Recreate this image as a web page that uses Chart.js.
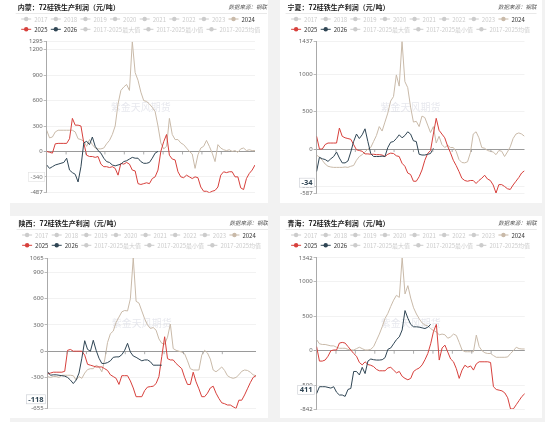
<!DOCTYPE html>
<html lang="zh-CN">
<head>
<meta charset="UTF-8">
<title>72硅铁生产利润</title>
<script src="https://cdn.jsdelivr.net/npm/chart.js"></script>
<style>
  html, body { margin: 0; padding: 0; background: #fff; }
  .wrap { position: relative; width: 550px; height: 422px; overflow: hidden; }
  .bg { position: absolute; left: 10px; top: 0; width: 535px; height: 422px; background: #f2f2f2; }
  .card { position: absolute; background: #fff; }
  .card canvas { display: block; }
</style>
</head>
<body>
<div class="wrap">
  <div class="bg"></div>
  <div class="card" style="left:10px;top:0;width:258px;height:203px;"><canvas id="c1" width="258" height="203"></canvas></div>
  <div class="card" style="left:280px;top:0;width:262px;height:203px;"><canvas id="c2" width="262" height="203"></canvas></div>
  <div class="card" style="left:10px;top:216px;width:258px;height:202px;"><canvas id="c3" width="258" height="202"></canvas></div>
  <div class="card" style="left:280px;top:216px;width:262px;height:202px;"><canvas id="c4" width="262" height="202"></canvas></div>
</div>
<script>
// 数据：每 5 天一个点（从 01-01 开始）
var STEP = 5;
var xTickDays = [34, 68, 102, 136, 170, 204, 238, 272, 306];
var xTickLabels = ['02-04', '03-09', '04-12', '05-16', '06-1', '07-23', '8-26', '09-29', '11-02'];
var legendNames = ['2017', '2018', '2019', '2020', '2021', '2022', '2023', '2024',
  '2025', '2026', '2017-2025最大值', '2017-2025最小值', '2017-2025均值'];

// 内蒙
var nm2024 = [250,160,170,230,250,250,250,250,250,250,
  230,150,140,120,60,140,80,40,30,30,
  40,90,130,200,300,560,720,760,790,720,
  1295,930,840,700,600,590,560,520,470,300,
  100,30,60,390,200,140,140,100,80,40,
  0,-30,-200,-40,40,60,130,60,-20,-120,
  80,40,20,10,20,0,10,-10,30,40,
  10,20,10,10];
var nm2025 = [0,-10,-20,90,95,95,95,95,150,390,
  310,310,300,100,-45,-60,-60,-70,-60,-150,
  -180,-180,-190,-180,-200,-280,-140,-150,-130,-150,
  -220,-230,-380,-390,-380,-370,-380,-320,-300,-220,
  0,115,200,-45,-90,-100,-240,-300,-310,-280,
  -300,-320,-300,-310,-420,-470,-470,-487,-470,-460,
  -420,-280,-240,-250,-240,-240,-300,-300,-430,-450,
  -320,-260,-220,-160];
var nm2026 = [-160,-200,-180,-160,-150,-140,-130,-80,-220,-250,
  -270,-360,-180,100,120,80,170,60,10,-20,
  -80,-120,-130,-160,-170,-160,-150,-120,-110,-90,
  -70,-80,-80,-120,-140,-140,-130,-80,-20,0];

// 宁夏
var nx2024 = [-80,-110,-150,-200,-230,-240,-245,-245,-245,-245,
  -240,-245,-230,-220,-150,-100,-75,-40,0,20,
  100,180,300,240,360,480,640,700,990,840,
  1437,900,820,560,360,370,300,440,420,320,
  220,300,80,170,60,20,50,20,20,-30,
  -140,-180,-185,-170,-50,200,230,150,20,10,
  -20,-30,-40,-75,-20,-30,-100,-40,30,140,
  200,215,200,170];
var nx2025 = [170,0,0,60,80,80,80,80,280,170,
  150,140,130,60,-10,-20,-30,-65,-65,-70,
  -70,-75,-75,-80,-100,-70,-55,-60,-90,-100,
  -190,-230,-320,-340,-430,-430,-370,-280,-150,-60,
  -20,200,410,250,200,150,40,-50,-150,-220,
  -300,-390,-420,-430,-420,-420,-460,-420,-390,-350,
  -400,-420,-480,-587,-475,-475,-500,-530,-540,-480,
  -430,-380,-320,-290];
var nx2026 = [-300,-110,-130,-140,-165,-130,-100,-40,-120,-185,
  -185,-160,-40,100,200,140,190,270,100,-60,
  -100,-100,-100,-95,-100,20,90,100,140,190,
  150,180,230,200,110,100,-70,-80,-80,-70,
  -60,10];

// 陕西
var sx2024 = [-290,-300,-290,-290,-300,-275,-275,-275,-275,-280,
  -330,-290,-310,-250,-210,-200,-200,-160,-180,-235,
  -100,100,200,230,330,390,450,465,460,600,
  1065,570,550,460,370,300,260,270,240,140,
  90,80,160,310,30,10,0,-10,-30,-110,
  -200,-215,-215,-215,-45,10,-20,-90,-215,-235,
  -210,-180,-220,-280,-300,-310,-300,-270,-230,-215,
  -220,-240,-270,-280];
var sx2025 = [-260,-250,-240,-240,-240,-240,-230,10,20,0,
  0,0,0,-45,-150,-160,-170,-180,-180,-180,
  -200,-220,-270,-290,-310,-380,-280,-280,-280,-340,
  -420,-520,-520,-520,-450,-410,-405,-400,-370,-290,
  -60,165,-85,-100,-100,-140,-170,-200,-300,-380,
  -380,-240,-350,-430,-520,-520,-480,-420,-400,-480,
  -540,-590,-600,-615,-615,-635,-655,-560,-560,-500,
  -430,-360,-300,-280];
var sx2026 = [-235,-275,-270,-270,-275,-280,-285,-300,-330,-370,
  -330,-250,-80,120,20,0,125,10,-80,-140,
  -140,-130,-110,-70,-65,-65,-40,10,90,-10,
  -55,-70,-90,-110,-100,-100,-120,-160,-160,-160,
  -160];

// 青海
var qh2024 = [160,100,90,90,80,70,70,50,35,35,
  35,20,10,10,30,50,30,10,10,20,
  60,150,240,345,465,540,640,730,800,770,
  1342,820,940,760,620,530,460,400,370,360,
  320,290,270,230,240,230,180,200,240,220,
  120,10,-15,-15,-15,-15,225,60,0,-30,
  -40,-40,-70,-95,-95,-95,-95,-90,-40,0,
  50,30,25,25];
var qh2025 = [60,-150,-150,-135,-80,0,10,10,110,120,
  110,60,10,-40,-80,-170,-205,-160,-200,-210,
  -230,-270,-290,-290,-290,-250,-240,-280,-320,-300,
  -370,-400,-420,-400,-300,-270,-250,-205,-130,-40,
  100,280,380,-135,40,80,-20,-120,-160,-260,
  -400,-280,-210,-240,-220,-280,-190,-160,-160,-160,
  -160,-170,-520,-560,-570,-580,-610,-680,-842,-840,
  -780,-720,-660,-620];
var qh2026 = [-620,-520,-520,-520,-530,-540,-520,-600,-640,-640,
  -660,-560,-545,-300,-300,-350,-240,-330,-150,-120,
  -130,-135,-135,-130,-100,20,40,100,160,200,
  300,580,470,380,345,345,340,330,320,340,
  380];

var COLOR_2024 = '#c9baa9';
var COLOR_2025 = '#d7403c';
var COLOR_2026 = '#2f4554';
var GREY = '#cccccc';
var FONT = '"Noto Sans", "Noto Sans CJK SC", sans-serif';
var FONT_CJK = '"Noto Sans CJK SC", "Noto Sans", sans-serif';

function toPoints(arr) {
  return arr.map(function (v, i) { return { x: i * STEP, y: v }; });
}

// 标题、图例、水印、坐标轴标签框
var decorPlugin = {
  id: 'decor',
  beforeDatasetsDraw: function (chart, args, o) {
    var ctx = chart.ctx, a = chart.chartArea;
    ctx.save();
    ctx.font = '10px ' + FONT_CJK;
    ctx.fillStyle = 'rgba(185,190,205,0.35)';
    ctx.textAlign = 'center';
    ctx.textBaseline = 'middle';
    ctx.fillText('紫金天风期货', (a.left + a.right) / 2 - 10, (a.top + a.bottom) / 2 - 10);
    ctx.restore();
  },
  afterDraw: function (chart, args, o) {
    var ctx = chart.ctx, a = chart.chartArea;
    var xs = chart.scales.x, ys = chart.scales.y;
    ctx.save();

    // 标题
    ctx.textBaseline = 'middle';
    ctx.textAlign = 'left';
    ctx.fillStyle = '#222';
    ctx.font = 'bold 7px ' + FONT_CJK;
    ctx.fillText(o.title, a.left - 29, o.titleY);
    // 数据来源
    ctx.textAlign = 'right';
    ctx.fillStyle = '#555';
    ctx.font = 'italic 5.5px ' + FONT_CJK;
    ctx.fillText('数据来源：钢联', a.right + 12, o.titleY);
    // 分隔线
    ctx.strokeStyle = '#e3e3e3';
    ctx.lineWidth = 0.8;
    ctx.beginPath();
    ctx.moveTo(a.left - 31, o.titleY + 6.5);
    ctx.lineTo(a.right + 12, o.titleY + 6.5);
    ctx.stroke();

    // 图例
    ctx.font = '6px ' + FONT_CJK;
    ctx.textAlign = 'left';
    var lx = a.left - 25.5, ly = o.titleY + 12;
    legendNames.forEach(function (name, i) {
      if (i === 8) { lx = a.left - 25.5; ly += 10.3; }
      var c = GREY, tc = GREY;
      if (name === '2024') { c = COLOR_2024; tc = '#333'; }
      if (name === '2025') { c = COLOR_2025; tc = '#333'; }
      if (name === '2026') { c = COLOR_2026; tc = '#333'; }
      ctx.strokeStyle = c;
      ctx.lineWidth = 1;
      ctx.beginPath();
      ctx.moveTo(lx, ly);
      ctx.lineTo(lx + 10, ly);
      ctx.stroke();
      ctx.fillStyle = c;
      ctx.beginPath();
      ctx.arc(lx + 5, ly, 2.2, 0, Math.PI * 2);
      ctx.fill();
      ctx.fillStyle = tc;
      ctx.fillText(name, lx + 13, ly + 0.3);
      lx += 13 + ctx.measureText(name).width + 3.3;
    });

    // x 轴刻度（在 0 线上）
    var zy = ys.getPixelForValue(0);
    ctx.strokeStyle = '#999';
    ctx.lineWidth = 0.8;
    xTickDays.forEach(function (d) {
      var px = xs.getPixelForValue(d);
      ctx.beginPath();
      ctx.moveTo(px, zy);
      ctx.lineTo(px, zy + 3);
      ctx.stroke();
    });

    // y 轴指示标签
    var by = ys.getPixelForValue(o.boxValue);
    ctx.font = (o.boxBold ? 'bold 7.5px ' : '6px ') + FONT;
    var tw = ctx.measureText(o.boxText).width;
    var bx = a.left - 2 - tw - 4;
    ctx.fillStyle = '#fff';
    ctx.fillRect(bx, by - 4.5, tw + 4, 9);
    ctx.strokeStyle = o.boxBold ? '#c9ccd2' : '#e2e2e2';
    ctx.lineWidth = 0.6;
    ctx.strokeRect(bx, by - 4.5, tw + 4, 9);
    ctx.fillStyle = o.boxBold ? '#2f4554' : '#777';
    ctx.textAlign = 'left';
    ctx.fillText(o.boxText, bx + 2, by + 0.3);

    ctx.restore();
  }
};

function makeChart(id, p) {
  var all = p.s2024.concat(p.s2025, p.s2026);
  var yMin = Math.min.apply(null, all);
  var yMax = Math.max.apply(null, all);
  var range = yMax - yMin;

  return new Chart(document.getElementById(id), {
    type: 'line',
    data: {
      datasets: [
        { label: '2026', data: toPoints(p.s2026), borderColor: COLOR_2026, order: 0 },
        { label: '2025', data: toPoints(p.s2025), borderColor: COLOR_2025, order: 1 },
        { label: '2024', data: toPoints(p.s2024), borderColor: COLOR_2024, order: 2 }
      ]
    },
    options: {
      responsive: false,
      animation: false,
      events: [],
      layout: { padding: { left: p.left - 30, right: p.right, top: p.top, bottom: 0 } },
      elements: {
        line: { borderWidth: 1, tension: 0 },
        point: { radius: 0 }
      },
      plugins: {
        legend: { display: false },
        tooltip: { enabled: false },
        decor: { title: p.title, titleY: 7, boxText: p.boxText, boxValue: p.boxValue, boxBold: p.boxBold }
      },
      scales: {
        x: {
          type: 'linear',
          min: 0,
          max: 365,
          afterBuildTicks: function (scale) {
            scale.ticks = xTickDays.map(function (d) { return { value: d }; });
          },
          afterFit: function (scale) { scale.height = p.bottom; },
          grid: { display: false },
          border: { display: false },
          ticks: {
            autoSkip: false,
            maxRotation: 0,
            padding: 1,
            callback: function (v) {
              var i = xTickDays.indexOf(v);
              return i >= 0 ? xTickLabels[i] : '';
            },
            color: function (c) { return c.tick && c.tick.value === 204 ? '#2f4554' : '#666'; },
            font: function (c) {
              return c.tick && c.tick.value === 204
                ? { family: FONT, size: 7.5, weight: 'bold' }
                : { family: FONT, size: 6 };
            }
          }
        },
        y: {
          min: yMin,
          max: yMax,
          afterBuildTicks: function (scale) {
            var t = [{ value: yMin }];
            var v = Math.ceil(yMin / p.step) * p.step;
            for (; v < yMax; v += p.step) {
              if (v - yMin > range * 0.04 && yMax - v > range * 0.04 || v === 0) t.push({ value: v });
              else if (yMax - v <= range * 0.04 && yMax - v > range * 0.05) t.push({ value: v });
              else if (yMax - v <= range * 0.04 && v - yMin > range * 0.04) t.push({ value: v });
            }
            t.push({ value: yMax });
            scale.ticks = t;
          },
          afterFit: function (scale) { scale.width = 30; },
          grid: {
            color: function (c) { return c.tick && c.tick.value === 0 ? '#9a9a9a' : '#efefef'; },
            lineWidth: function (c) { return c.tick && c.tick.value === 0 ? 1 : 0.8; },
            tickColor: '#aaa',
            tickLength: 3
          },
          border: { display: true, color: '#aaa', width: 1 },
          ticks: {
            padding: 1,
            color: '#666',
            font: { family: FONT, size: 6 },
            callback: function (v) { return String(Math.round(v)); }
          }
        }
      }
    },
    plugins: [decorPlugin]
  });
}

makeChart('c1', {
  title: '内蒙：72硅铁生产利润（元/吨）', s2024: nm2024, s2025: nm2025, s2026: nm2026,
  step: 300, left: 36.7, right: 13, top: 41.7, bottom: 10.3,
  boxText: '-340', boxValue: -300, boxBold: false
});
makeChart('c2', {
  title: '宁夏：72硅铁生产利润（元/吨）', s2024: nx2024, s2025: nx2025, s2026: nx2026,
  step: 500, left: 36.6, right: 17.5, top: 41.4, bottom: 10,
  boxText: '-34', boxValue: -449, boxBold: true
});
makeChart('c3', {
  title: '陕西：72硅铁生产利润（元/吨）', s2024: sx2024, s2025: sx2025, s2026: sx2026,
  step: 300, left: 37.6, right: 12, top: 42, bottom: 9.5,
  boxText: '-118', boxValue: -550, boxBold: true
});
makeChart('c4', {
  title: '青海：72硅铁生产利润（元/吨）', s2024: qh2024, s2025: qh2025, s2026: qh2026,
  step: 500, left: 36.6, right: 17.2, top: 41.8, bottom: 9,
  boxText: '411', boxValue: -566, boxBold: true
});
</script>
</body>
</html>
